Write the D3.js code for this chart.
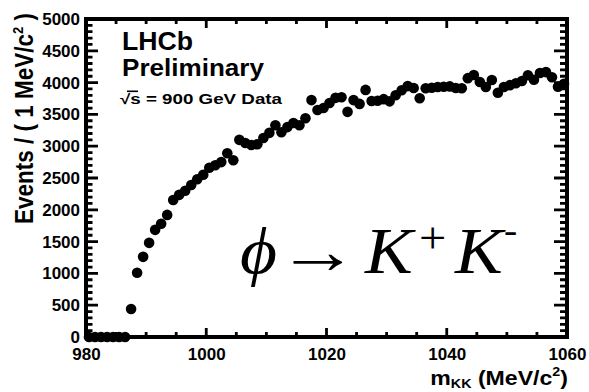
<!DOCTYPE html>
<html>
<head>
<meta charset="utf-8">
<script src="https://cdn.jsdelivr.net/npm/d3@7"></script>
<style>
  html, body { margin: 0; padding: 0; background: #fff; }
  svg { display: block; }
  .sans { font-family: "Liberation Sans", Arial, Helvetica, sans-serif; font-weight: bold; fill: #000; }
  .serif { font-family: "Liberation Serif", "Times New Roman", serif; font-weight: normal; fill: #000; }
</style>
</head>
<body>
<svg id="chart" width="589" height="392"></svg>
<script>
// K+K- invariant mass, 1 MeV/c^2 bins (bin centres)
const massBins = [
  980.5, 981.5, 982.5, 983.5, 984.5, 985.5, 986.5, 987.5, 988.5, 989.5,
  990.5, 991.5, 992.5, 993.5, 994.5, 995.5, 996.5, 997.5, 998.5, 999.5,
  1000.5, 1001.5, 1002.5, 1003.5, 1004.5, 1005.5, 1006.5, 1007.5, 1008.5, 1009.5,
  1010.5, 1011.5, 1012.5, 1013.5, 1014.5, 1015.5, 1016.5, 1017.5, 1018.5, 1019.5,
  1020.5, 1021.5, 1022.5, 1023.5, 1024.5, 1025.5, 1026.5, 1027.5, 1028.5, 1029.5,
  1030.5, 1031.5, 1032.5, 1033.5, 1034.5, 1035.5, 1036.5, 1037.5, 1038.5, 1039.5,
  1040.5, 1041.5, 1042.5, 1043.5, 1044.5, 1045.5, 1046.5, 1047.5, 1048.5, 1049.5,
  1050.5, 1051.5, 1052.5, 1053.5, 1054.5, 1055.5, 1056.5, 1057.5, 1058.5, 1059.5
];

// Candidates per bin
const events = [
  0, 0, 0, 0, 0, 0, 0, 440, 1010, 1260,
  1480, 1685, 1780, 1920, 2155, 2235, 2300, 2390, 2480, 2550,
  2660, 2700, 2750, 2890, 2780, 3100, 3050, 3020, 3030, 3130,
  3210, 3330, 3220, 3300, 3365, 3330, 3440, 3725, 3570, 3600,
  3680, 3760, 3770, 3540, 3725, 3665, 3885, 3710, 3715, 3740,
  3705, 3800, 3880, 3945, 3915, 3755, 3910, 3920, 3930, 3935,
  3940, 3915, 3910, 4070, 4120, 4010, 3930, 4040, 3840, 3930,
  3960, 3990, 4025, 4115, 4045, 4150, 4165, 4085, 3935, 3980
];

const xMajorTicks = [980, 1000, 1020, 1040, 1060];
const xMinorTicks = [985, 990, 995, 1005, 1010, 1015, 1025, 1030, 1035, 1045, 1050, 1055];
const yMajorTicks = [0, 500, 1000, 1500, 2000, 2500, 3000, 3500, 4000, 4500, 5000];
const yMinorTicks = [100, 200, 300, 400, 600, 700, 800, 900, 1100, 1200, 1300, 1400,
  1600, 1700, 1800, 1900, 2100, 2200, 2300, 2400, 2600, 2700, 2800, 2900,
  3100, 3200, 3300, 3400, 3600, 3700, 3800, 3900, 4100, 4200, 4300, 4400,
  4600, 4700, 4800, 4900];

const svg = d3.select("#chart");
const plotL = 86, plotR = 567, plotT = 19, plotB = 337;

const x = d3.scaleLinear().domain([980, 1060]).range([plotL, plotR]);
const y = d3.scaleLinear().domain([0, 5000]).range([plotB, plotT]);

// tick labels from d3 axes
function labelAxis(axis, tx, ty, values, padding) {
  const g = svg.append("g").attr("transform", `translate(${tx},${ty})`)
    .call(axis.tickValues(values).tickSize(0).tickPadding(padding).tickFormat(d3.format("d")));
  g.select(".domain").remove();
  g.selectAll(".tick line").remove();
  g.selectAll("text").attr("class", "sans").style("font-size", "17px");
}
labelAxis(d3.axisBottom(x), 0, plotB, xMajorTicks, 11);
labelAxis(d3.axisLeft(y), plotL, 0, yMajorTicks, 6);

// frame outline plus inward tick marks on all four edges, one path
const framePath = d3.path();
framePath.moveTo(plotL, plotT); framePath.lineTo(plotR, plotT);
framePath.lineTo(plotR, plotB); framePath.lineTo(plotL, plotB); framePath.closePath();
function addTicks(values, pos, edge, len) {
  values.forEach(v => {
    const c = pos(v);
    if (edge === "bottom") { framePath.moveTo(c, plotB); framePath.lineTo(c, plotB - len); }
    if (edge === "top")    { framePath.moveTo(c, plotT); framePath.lineTo(c, plotT + len); }
    if (edge === "left")   { framePath.moveTo(plotL, c); framePath.lineTo(plotL + len, c); }
    if (edge === "right")  { framePath.moveTo(plotR, c); framePath.lineTo(plotR - len, c); }
  });
}
addTicks(xMajorTicks, x, "bottom", 9);
addTicks(xMinorTicks, x, "bottom", 5);
addTicks(xMajorTicks, x, "top", 9);
addTicks(xMinorTicks, x, "top", 5);
addTicks(yMajorTicks, y, "left", 12);
addTicks(yMinorTicks, y, "left", 6.5);
addTicks(yMajorTicks, y, "right", 13);
addTicks(yMinorTicks, y, "right", 7);
svg.append("path").attr("d", framePath.toString())
  .attr("fill", "none").attr("stroke", "#000").attr("stroke-width", 2.8);

// heavier outer frame
svg.append("path")
  .attr("d", `M${plotL},${plotT}H${plotR}V${plotB}H${plotL}Z`)
  .attr("fill", "none").attr("stroke", "#000").attr("stroke-width", 4);

// data points
svg.append("g").selectAll("circle")
  .data(massBins.map((m, i) => ({ m, n: events[i] })))
  .join("circle")
  .attr("cx", d => x(d.m))
  .attr("cy", d => y(d.n))
  .attr("r", 5.3)
  .attr("fill", "#000");

// axis titles
const xt = svg.append("text").attr("class", "sans")
  .attr("transform", "translate(568,385) scale(1.1,1)")
  .attr("text-anchor", "end")
  .style("font-size", "21px");
xt.append("tspan").text("m");
xt.append("tspan").style("font-size", "13px").attr("dy", 3).text("KK");
xt.append("tspan").attr("dy", -3).text(" (MeV/c");
xt.append("tspan").style("font-size", "13px").attr("dy", -9).text("2");
xt.append("tspan").attr("dy", 9).text(")");

const yt = svg.append("text").attr("class", "sans")
  .attr("transform", "translate(33,13) rotate(-90) scale(1,1.15)")
  .attr("text-anchor", "end")
  .style("font-size", "22.5px");
yt.append("tspan").text("Events / ( 1 MeV/c");
yt.append("tspan").style("font-size", "13px").attr("dy", -9).text("2");
yt.append("tspan").attr("dy", 9).text(" )");

// experiment labels
svg.append("text").attr("class", "sans").attr("x", 122).attr("y", 50).style("font-size", "25px")
  .attr("textLength", 71).attr("lengthAdjust", "spacingAndGlyphs").text("LHCb");
svg.append("text").attr("class", "sans").attr("x", 122).attr("y", 76).style("font-size", "24px")
  .attr("textLength", 142).attr("lengthAdjust", "spacingAndGlyphs").text("Preliminary");
svg.append("text").attr("class", "sans").attr("x", 120).attr("y", 104).style("font-size", "14px")
  .attr("textLength", 162).attr("lengthAdjust", "spacingAndGlyphs")
  .text("\u221As = 900 GeV Data");
svg.append("path").attr("d", "M127,91.3H138").attr("stroke", "#000").attr("stroke-width", 1.6);

// decay label
function serifText(xp, yp, size, italic, str, sx) {
  return svg.append("text").attr("class", "serif")
    .attr("transform", `translate(${xp},${yp}) scale(${sx || 1.1},1)`)
    .style("font-size", size + "px").style("font-style", italic ? "italic" : "normal")
    .text(str);
}
serifText(240, 273, 65, true, "\u03D5");
serifText(277, 273, 65, false, "\u2192", 1.0).attr("textLength", 82).attr("lengthAdjust", "spacingAndGlyphs");
serifText(365, 273, 65, true, "K");
serifText(419, 253, 44, false, "+");
serifText(455, 273, 65, true, "K");
serifText(504, 242, 36, false, "-");
</script>
</body>
</html>
